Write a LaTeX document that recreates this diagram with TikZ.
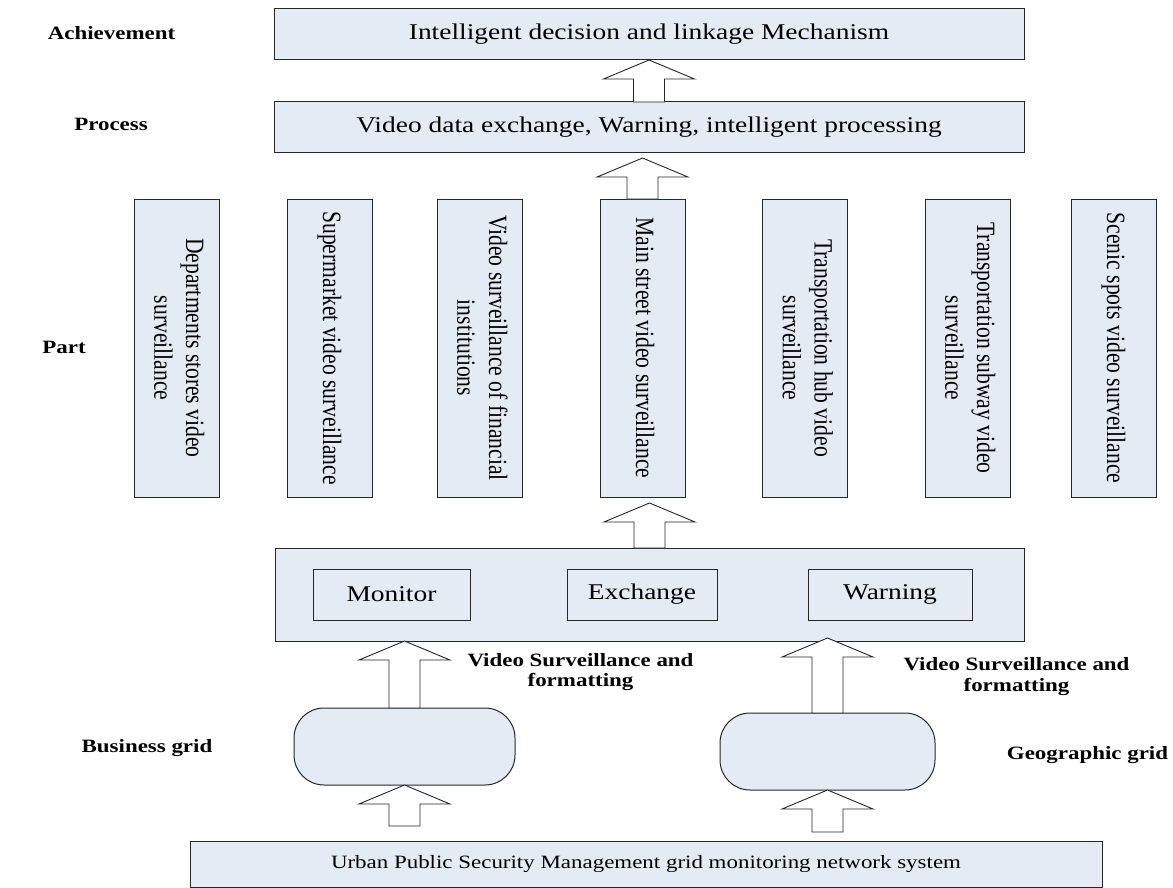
\documentclass[tikz,border=0pt]{standalone}
\usepackage{fontspec}
\usepackage{graphicx}
\setmainfont{Liberation Serif}[FakeStretch=1.22]
\newfontfamily\uprightserif{Liberation Serif}
\usetikzlibrary{calc}

\definecolor{boxfill}{HTML}{E4EBF5}
\definecolor{ink}{HTML}{262626}

\tikzset{
  panel/.style={draw=ink, fill=boxfill, line width=1pt, inner sep=0pt, outer sep=0pt},
  bodytext/.style={font=\fontsize{22.5}{27}\selectfont},
  smalltext/.style={font=\fontsize{18.8}{22}\selectfont},
  sidelabel/.style={font=\bfseries\fontsize{18.8}{20.5}\selectfont, align=center, inner sep=0pt},
  blockarrow/.style={draw=ink, fill=white, line width=0.9pt, line join=miter},
  column/.style={panel, minimum width=85pt, minimum height=298pt},
  gridbox/.style={panel, rounded corners=30pt, minimum height=77pt}
}

% text set along a column, read from top to bottom
\newcommand\columntext[1]{\rotatebox{-90}{\scalebox{1}[1.22]{\uprightserif\fontsize{21.6}{26}\selectfont\begin{tabular}{@{}c@{}}#1\end{tabular}}}}

% hollow upward block arrow: shaft rises from #1 to the head whose tip is level with #2
\newcommand\blockup[2]{%
  \draw[blockarrow] let \p1=(#1), \p2=(#2) in
    (\x1-15.5pt,\y1) -- (\x1-15.5pt,\y2-19pt) -- (\x1-45.5pt,\y2-19pt) -- (\x1,\y2)
    -- (\x1+45.5pt,\y2-19pt) -- (\x1+15.5pt,\y2-19pt) -- (\x1+15.5pt,\y1) -- cycle;}

\begin{document}
\begin{tikzpicture}[x=1pt, y=-1pt]
\useasboundingbox (0,0) rectangle (1173,888);

% layer captions
\node[sidelabel] (lachieve) at (111.5,33) {Achievement};
\node[sidelabel] (lprocess) at (111,124) {Process};
\node[sidelabel] (lpart) at (64,347) {Part};
\node[sidelabel] (lbusiness) at (147,748) {Business grid};
\node[sidelabel] (lgeo) at (1087.5,755) {Geographic grid};

% upper layers
\node[panel, bodytext, minimum width=750pt, minimum height=51pt] (top) at (649,34.5)
  {Intelligent decision and linkage Mechanism};
\node[panel, bodytext, minimum width=750pt, minimum height=51pt] (proc) at (649,127.5)
  {Video data exchange, Warning, intelligent processing};

% surveillance parts
\node[column] (v1) at (176.5,348) {\columntext{Departments stores video\\surveillance}};
\node[column] (v2) at (329.5,348) {\columntext{Supermarket video surveillance}};
\node[column] (v3) at (479.5,348) {\columntext{Video surveillance of financial\\institutions}};
\node[column] (v4) at (642.5,348) {\columntext{Main street video surveillance}};
\node[column] (v5) at (805,348) {\columntext{Transportation hub video\\surveillance}};
\node[column] (v6) at (967.5,348) {\columntext{Transportation subway video\\surveillance}};
\node[column] (v7) at (1113.5,348) {\columntext{Scenic spots video surveillance}};

% platform with its three functions
\node[panel, minimum width=749pt, minimum height=93pt] (mid) at (649.5,594.5) {};
\node[panel, bodytext, minimum width=157pt, minimum height=51pt] (monitor) at (391.5,594.5) {Monitor};
\node[panel, bodytext, minimum width=150pt, minimum height=51pt] (exchange) at (642,594.5) {Exchange};
\node[panel, bodytext, minimum width=164pt, minimum height=51pt] (warning) at (890,594.5) {Warning};

% grids
\node[gridbox, minimum width=221pt] (lgrid) at (404.5,746.5) {};
\node[gridbox, minimum width=215pt] (rgrid) at (827.5,751.5) {};

% base network
\node[panel, smalltext, minimum width=912pt, minimum height=46pt] (bot) at (646,864)
  {Urban Public Security Management grid monitoring network system};

% arrow captions
\node[sidelabel] (lvsl) at (580.5,672) {Video Surveillance and\\formatting};
\node[sidelabel] (lvsr) at (1016.5,676.5) {Video Surveillance and\\formatting};

% block arrows
\blockup{proc.north}{top.south}
\blockup{v4.north}{$(proc.south)+(0,5)$}
\blockup{mid.north}{$(v4.south)+(0,6)$}
\blockup{lgrid.north}{mid.south}
\blockup{rgrid.north}{$(mid.south)+(0,-3)$}
\blockup{$(lgrid.south |- bot.north)+(0,-15)$}{lgrid.south}
\blockup{$(rgrid.south |- bot.north)+(0,-9)$}{rgrid.south}
\end{tikzpicture}
\end{document}
